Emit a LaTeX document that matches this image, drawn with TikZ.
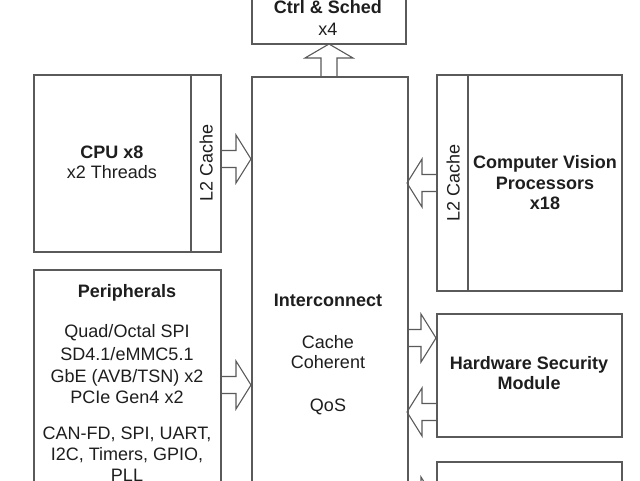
\documentclass[tikz,border=0pt]{standalone}
\usepackage{fontspec}
\setmainfont{Liberation Sans}
\begin{document}
\begin{tikzpicture}[x=1pt,y=-1pt,
  box/.style={draw=linegray,line width=1.3pt},
  blk/.style={draw=linegray,line width=1.1pt,line join=miter},
  lbl/.style={anchor=base,inner sep=0pt,text=txt,font=\fontsize{18}{21}\selectfont},
  bl/.style={lbl,font=\fontsize{18}{21}\selectfont\bfseries},
  rot/.style={lbl,rotate=90}]
\definecolor{linegray}{HTML}{5A5A5A}
\definecolor{txt}{HTML}{1E1E1E}
\useasboundingbox (0,0) rectangle (640,480);
\clip (0,0) rectangle (640,480);
\fill[white] (0,0) rectangle (640,480);
\newcommand\HArrow[3]{%
  \pgfmathsetmacro\hbx{#2-15*sign(#2-#1)}%
  \draw[blk] (#1,#3-8.5) -- (\hbx,#3-8.5) -- (\hbx,#3-24) -- (#2,#3) -- (\hbx,#3+24) -- (\hbx,#3+8.5) -- (#1,#3+8.5);}
% boxes
\draw[box] (252,-10) rectangle (406,44) coordinate (ctrl);
\draw[box] (252,77) rectangle (408,520) coordinate (inter);
\draw[box] (34,75) rectangle (221,252) coordinate (cpu);
\draw[box] (191,75) -- (191,252);
\draw[box] (437,75) rectangle (622,291) coordinate (cv);
\draw[box] (468,75) -- (468,291);
\draw[box] (34,270) rectangle (221,520) coordinate (peri);
\draw[box] (437,314) rectangle (622,437) coordinate (hsm);
\draw[box] (437,462) rectangle (622,560) coordinate (bot);
% arrows
\draw[blk] (321,77) -- (321,58) -- (305,58) -- (329,44) -- (353,58) -- (337,58) -- (337,77);
\HArrow{221}{251}{159}
\HArrow{221}{251}{385}
\HArrow{437}{407}{183}
\HArrow{408}{436}{338}
\HArrow{437}{407}{412}
\HArrow{408}{436}{501}
% text
\node[bl] (t1) at (328,13.5) {Ctrl \& Sched};
\node[lbl] (t2) at (328,35.5) {x4};
\node[bl] (t3) at (112,158.5) {CPU x8};
\node[lbl] (t4) at (112,178.5) {x2 Threads};
\node[rot] (t5) at (212.5,163) {L2 Cache};
\node[rot] (t6) at (459.5,183) {L2 Cache};
\node[bl] (t7) at (545,168.5) {Computer Vision};
\node[bl] (t8) at (545,189.5) {Processors};
\node[bl] (t9) at (545,209.5) {x18};
\node[bl] (p0) at (127,297.5) {Peripherals};
\node[lbl] (p1) at (127,337.5) {Quad/Octal SPI};
\node[lbl] (p2) at (127,360) {SD4.1/eMMC5.1};
\node[lbl] (p3) at (127,382.5) {GbE (AVB/TSN) x2};
\node[lbl] (p4) at (127,403.5) {PCIe Gen4 x2};
\node[lbl] (p5) at (127,439.5) {CAN-FD, SPI, UART,};
\node[lbl] (p6) at (127,460) {I2C, Timers, GPIO,};
\node[lbl] (p7) at (127,481) {PLL};
\node[bl] (i0) at (328,306.5) {Interconnect};
\node[lbl] (i1) at (328,348.5) {Cache};
\node[lbl] (i2) at (328,368.5) {Coherent};
\node[lbl] (i3) at (328,411.5) {QoS};
\node[bl] (h1) at (529,369.5) {Hardware Security};
\node[bl] (h2) at (529,389.5) {Module};
\end{tikzpicture}
\end{document}
